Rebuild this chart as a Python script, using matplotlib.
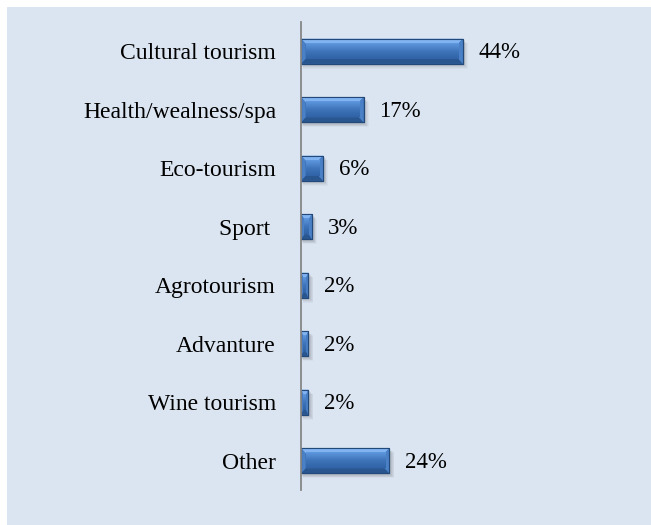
import numpy as np
import matplotlib
matplotlib.use("Agg")
import matplotlib.pyplot as plt
from matplotlib.patches import Rectangle, Polygon
from matplotlib.colors import LinearSegmentedColormap

categories = ["Cultural tourism", "Health/wealness/spa", "Eco-tourism", "Sport ",
              "Agrotourism", "Advanture", "Wine tourism", "Other"]
values = [44, 17, 6, 3, 2, 2, 2, 24]
value_labels = ["44%", "17%", "6%", "3%", "2%", "2%", "2%", "24%"]

W, H = 651, 525
fig = plt.figure(figsize=(W / 100, H / 100), dpi=100)
fig.patch.set_facecolor("white")
fig.patches.append(Rectangle((7 / W, 0), 1, 1 - 7 / H, transform=fig.transFigure,
                             facecolor="#dbe5f1", edgecolor="none", zorder=-10))

px_per_unit = 3.68
xmax = 86
ax = fig.add_axes([301 / W, 1 - 490 / H, xmax * px_per_unit / W, (490 - 22) / H])
ax.set_facecolor("none")

bar_h = 0.43
dx_px, dy_px = 4.5, 5.0
unit_y = (490 - 22) / 8.0  # px per category
face_cmap = LinearSegmentedColormap.from_list("face", ["#5f98df", "#3f75bb", "#3063a6"])
grad = np.linspace(0, 1, 64).reshape(-1, 1)
font = "Liberation Serif"

for i, v in enumerate(values):
    y0, y1 = i - bar_h / 2, i + bar_h / 2
    # soft shadow
    for k, a in zip(range(6, 0, -1), [0.04, 0.05, 0.06, 0.07, 0.08, 0.09]):
        ax.add_patch(Rectangle((k * 0.35 / px_per_unit, y0 + (k * 0.8) / unit_y),
                               v + k * 0.5 / px_per_unit, bar_h,
                               facecolor="#404040", alpha=a, edgecolor="none", zorder=1))
    ax.barh(i, v, height=bar_h, color="#3a6eb2", edgecolor="#23487a", linewidth=0.8, zorder=2)
    dx = min(dx_px / px_per_unit, v * 0.3)
    dy = dy_px / unit_y
    # bevel edges
    ax.add_patch(Polygon([(0, y0), (v, y0), (v - dx, y0 + dy), (dx, y0 + dy)],
                         facecolor="#80b3f0", edgecolor="none", zorder=3))
    ax.add_patch(Polygon([(0, y1), (v, y1), (v - dx, y1 - dy), (dx, y1 - dy)],
                         facecolor="#2a5690", edgecolor="none", zorder=3))
    ax.add_patch(Polygon([(v, y0), (v, y1), (v - dx, y1 - dy), (v - dx, y0 + dy)],
                         facecolor="#4a80c6", edgecolor="none", zorder=3))
    ax.add_patch(Polygon([(0, y0), (0, y1), (dx, y1 - dy), (dx, y0 + dy)],
                         facecolor="#4a80c6", edgecolor="none", zorder=3))
    # inner face gradient
    ax.imshow(grad, cmap=face_cmap, aspect="auto", zorder=4,
              extent=(dx, v - dx, y1 - dy, y0 + dy), interpolation="bilinear")
    ax.add_patch(Rectangle((0, y0), v, bar_h, facecolor="none",
                           edgecolor="#23487a", linewidth=0.8, zorder=5))
    ax.annotate(value_labels[i], (v, i), xytext=(11.5, -1), textcoords="offset points",
                va="center", ha="left", fontsize=16.5, family=font, color="black")

ax.set_xlim(0, xmax)
ax.set_ylim(len(values) - 0.5, -0.5)
ax.set_yticks(range(len(categories)))
ax.set_yticklabels(categories, fontsize=17, family=font)
ax.tick_params(axis="y", length=0, pad=18)
ax.set_xticks([])
for s in ["top", "right", "bottom"]:
    ax.spines[s].set_visible(False)
ax.spines["left"].set_color("#868686")
ax.spines["left"].set_linewidth(1.3)
ax.spines["left"].set_zorder(6)

fig.savefig("out.png", dpi=100)
